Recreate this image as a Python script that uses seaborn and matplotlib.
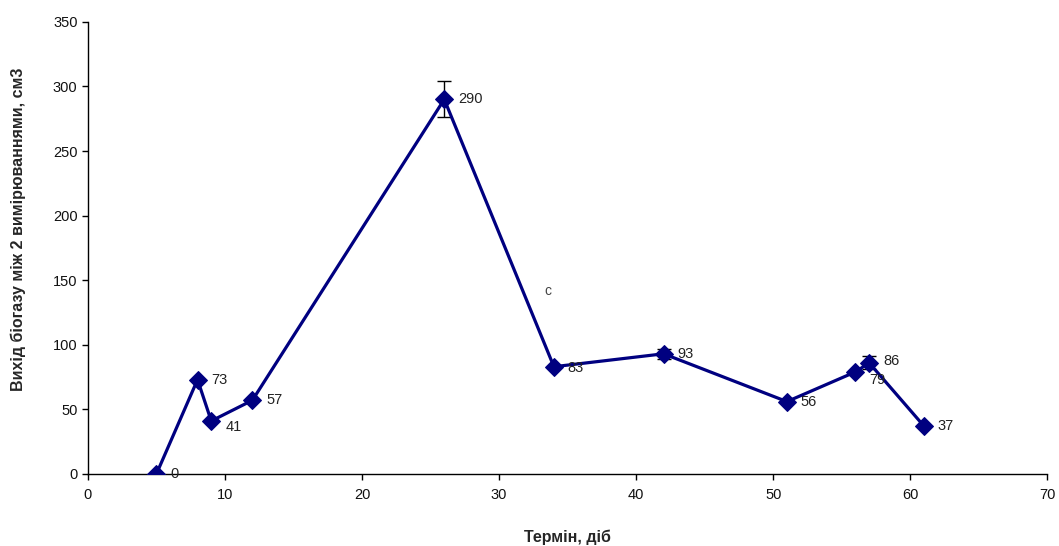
import numpy as np
import pandas as pd
import matplotlib
matplotlib.use("Agg")
import matplotlib.pyplot as plt
import seaborn as sns

# data
days = [5, 8, 9, 12, 26, 34, 42, 51, 56, 57, 61]
biogas = [0, 73, 41, 57, 290, 83, 93, 56, 79, 86, 37]
errors = [0, 0, 0, 0, 14, 0, 4, 0, 0, 5, 0]
labels = ["0", "73", "41", "57", "290", "83", "93", "56", "79", "86", "37"]
label_dy = [0, 0, -4, 0, 0, -1, 0, 0, -6, 1, 0]

sns.set_theme(style="white")
plt.rcParams['font.family'] = ['Liberation Sans', 'DejaVu Sans']

df = pd.DataFrame({"day": days, "gas": biogas})

fig = plt.figure(figsize=(10.59, 5.46), dpi=100)
ax = fig.add_axes([0.083, 0.132, 0.906, 0.828])

ax.errorbar(days, biogas, yerr=errors, fmt="none", ecolor="black",
            elinewidth=1, capsize=5, capthick=1, zorder=2)
sns.lineplot(data=df, x="day", y="gas", ax=ax, color="#000080", lw=2.3,
             marker="D", markersize=9, markeredgecolor="#000080", zorder=3)

for x, y, t, dy in zip(days, biogas, labels, label_dy):
    ax.annotate(t, (x, y), xytext=(10, dy), textcoords="offset points",
                va="center", ha="left", fontsize=10.5, color="#222222")
ax.text(33.3, 142, "c", fontsize=10, color="#444444", va="center")

ax.set_xlim(0, 70)
ax.set_ylim(0, 350)
ax.set_xticks(range(0, 71, 10))
ax.set_yticks(range(0, 351, 50))
ax.tick_params(axis="both", labelsize=10.5, direction="out", length=4,
               width=1, color="black", bottom=True, left=True,
               labelcolor="#111111")
ax.tick_params(axis="x", pad=6)
for s in ["top", "right"]:
    ax.spines[s].set_visible(False)
for s in ["left", "bottom"]:
    ax.spines[s].set_color("black")
    ax.spines[s].set_linewidth(1)

ax.set_xlabel("Термін, діб", fontsize=11.5, fontweight="bold", labelpad=20)
ax.set_ylabel("Вихід біогазу між 2 вимірюваннями, см3", fontsize=11.5,
              fontweight="bold")
ax.yaxis.set_label_coords(-0.064, 0.54)

fig.savefig("out.png", dpi=100)
